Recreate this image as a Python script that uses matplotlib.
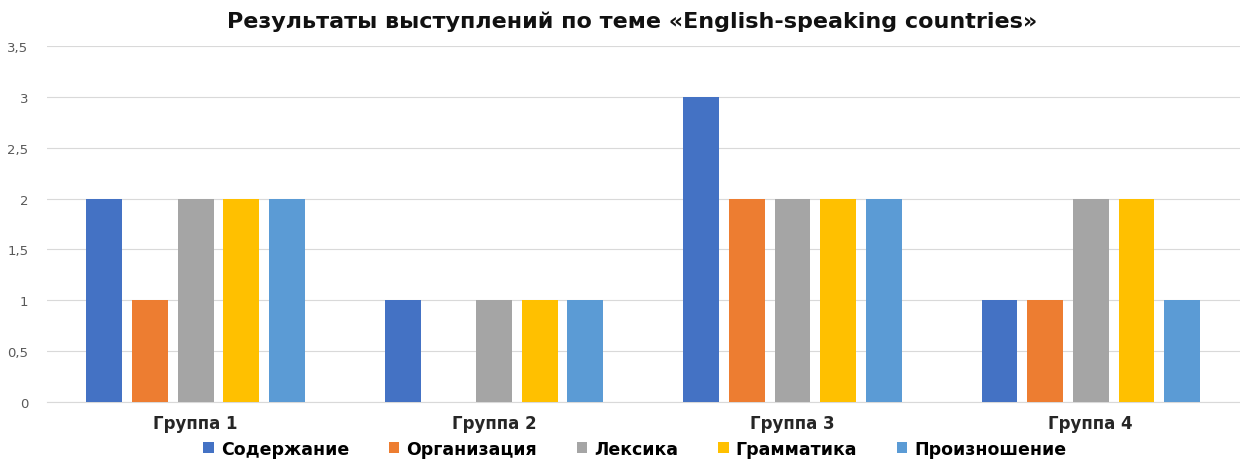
"""
    Столбчатая диаграмма результатов выступлений
"""
import matplotlib
matplotlib.use("Agg")
import matplotlib.pyplot as plt
import numpy as np
from matplotlib.ticker import FuncFormatter, MultipleLocator

groups = ["Группа 1", "Группа 2", "Группа 3", "Группа 4"]
criteria = ["Содержание", "Организация", "Лексика", "Грамматика", "Произношение"]
soderzhanie = [2, 1, 3, 1]
organizatsiya = [1, 0, 2, 1]
leksika = [2, 1, 2, 2]
grammatika = [2, 1, 2, 2]
proiznoshenie = [2, 1, 2, 1]
colors = ["#4472C4", "#ED7D31", "#A5A5A5", "#FFC000", "#5B9BD5"]


def main():
    plt.rcParams["font.family"] = ["DejaVu Sans"]
    series = [soderzhanie, organizatsiya, leksika, grammatika, proiznoshenie]

    fig = plt.figure(figsize=(12.4, 4.6), dpi=100)
    ax = fig.add_axes([0.0375, 0.124, 0.9625, 0.774])

    x = np.arange(len(groups))
    width = 0.12
    step = 0.153
    for i, (name, values) in enumerate(zip(criteria, series)):
        ax.bar(x + (i - 2) * step, values, width, color=colors[i], label=name, zorder=3)

    ax.set_xlim(-0.5, len(groups) - 0.5)
    ax.set_ylim(0, 3.5)
    ax.yaxis.set_major_locator(MultipleLocator(0.5))
    ax.yaxis.set_major_formatter(FuncFormatter(lambda v, _: f"{v:g}".replace(".", ",")))
    ax.set_xticks(x)
    ax.set_xticklabels(groups, fontsize=12, fontweight="bold", color="#262626")
    ax.tick_params(axis="y", labelsize=9.5, colors="#595959", length=0, pad=13)
    ax.tick_params(axis="x", length=0, pad=9)
    ax.grid(axis="y", color="#D9D9D9", linewidth=0.8, zorder=0)
    for side in ["top", "right", "left"]:
        ax.spines[side].set_visible(False)
    ax.spines["bottom"].set_color("#D9D9D9")

    fig.suptitle("Результаты выступлений по теме «English-speaking countries»",
                 fontsize=16, fontweight="bold", color="#111111", x=0.51, y=0.975)

    fig.legend(loc="center", bbox_to_anchor=(0.512, 0.022), ncol=5, frameon=False,
               handlelength=0.6, handleheight=0.6, columnspacing=2.3,
               handletextpad=0.4, prop={"weight": "bold", "size": 12.5})

    fig.savefig("out.png", dpi=100)


if __name__ == "__main__":
    main()
